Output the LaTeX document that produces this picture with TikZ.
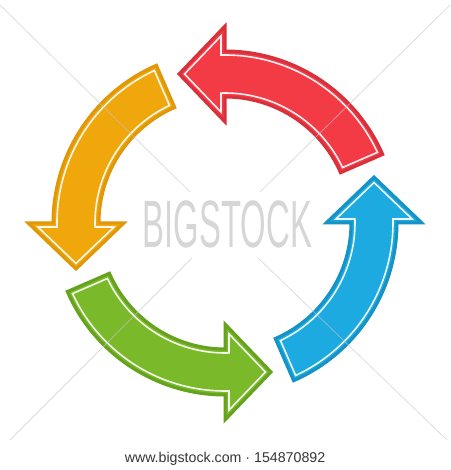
\documentclass[tikz,border=0pt]{standalone}
\usepackage{fontspec}
\setmainfont{Liberation Sans}
\usepackage{graphicx}
\definecolor{redF}{HTML}{F33B46}
\definecolor{redB}{HTML}{D8313B}
\definecolor{yelF}{HTML}{EFA70C}
\definecolor{yelB}{HTML}{E09708}
\definecolor{grnF}{HTML}{7AB929}
\definecolor{grnB}{HTML}{65A31E}
\definecolor{bluF}{HTML}{1CAAE0}
\definecolor{bluB}{HTML}{1592C6}
\definecolor{wmark}{HTML}{D6D6D6}
\definecolor{wline}{HTML}{C8C8C8}
\definecolor{urltext}{HTML}{363636}
% geometry (pt = px)
\def\RO{172}\def\RI{126}\def\RM{149}
\def\HO{197}\def\HI{101}\def\LL{46}
\def\TT{23.5}\def\DD{4}
\pgfmathsetmacro\ROd{\RO-\DD}
\pgfmathsetmacro\RId{\RI+\DD}
\pgfmathsetmacro\aA{asin(\DD/(\RO-\DD))}
\pgfmathsetmacro\aB{asin(\DD/(\RI+\DD))}
\pgfmathsetmacro\hh{\HO-\RM}
\pgfmathsetmacro\ss{sqrt(\LL*\LL+\hh*\hh)}
\pgfmathsetmacro\kk{\LL/\ss+(\ss+\hh)*\hh/(\LL*\ss)}
\pgfmathsetmacro\tipx{-\LL+\DD*\ss/\hh}
\pgfmathsetmacro\tA{\TT+\aA}
\pgfmathsetmacro\eA{90+\aA}
\pgfmathsetmacro\tB{\TT+\aB}
\pgfmathsetmacro\eB{90+\aB}
\pgfmathsetmacro\yA{\HO-\kk*\DD}
\pgfmathsetmacro\yB{\HI+\kk*\DD}
\newcommand{\ringarrow}[3]{%
  \begin{scope}[rotate=#1]
    \filldraw[fill=#2, draw=#3, line width=3pt, line join=miter]
      (\TT:\RO pt) arc[start angle=\TT, end angle=90, radius=\RO pt]
      -- (0,\HO) -- (-\LL,\RM) -- (0,\HI) -- (0,\RI)
      arc[start angle=90, end angle=\TT, radius=\RI pt] -- cycle;
    \draw[white, line width=1.6pt, line join=miter, opacity=0.92]
      (\tA:\ROd pt) arc[start angle=\tA, end angle=\eA, radius=\ROd pt]
      -- (-\DD,\yA) -- (\tipx,\RM) -- (-\DD,\yB) -- (\eB:\RId pt)
      arc[start angle=\eB, end angle=\tB, radius=\RId pt] -- cycle;
  \end{scope}}
\begin{document}
\begin{tikzpicture}[x=1pt,y=1pt,
  wmline/.style={draw=wline, line width=0.8pt, opacity=0.6}]
\useasboundingbox (-225,-247) rectangle (225,223);
\fill[white] (-225,-247) rectangle (225,223);
% arrows: red (top), yellow (left), green (bottom), blue (right)
\ringarrow{0}{redF}{redB}
\ringarrow{90}{yelF}{yelB}
\ringarrow{180}{grnF}{grnB}
\ringarrow{270}{bluF}{bluB}
% watermark
\node[text=wmark, inner sep=0pt] (wm) at (2.5,-1)
  {\scalebox{0.49}[1]{\fontsize{67}{67}\selectfont BIGSTOCK}};
\coordinate (tl) at (-225,218);
\coordinate (tr) at (225,218);
\coordinate (bl) at (-215,-217);
\coordinate (br) at (222,-217);
\coordinate (ctl) at (-35,31);
\coordinate (ctr) at (35,31);
\coordinate (cbl) at (-33,-35);
\coordinate (cbr) at (33,-35);
\draw[wmline] (tl) -- (ctl);
\draw[wmline] (tr) -- (ctr);
\draw[wmline] (bl) -- (cbl);
\draw[wmline] (br) -- (cbr);
\node[text=urltext, inner sep=0pt] (url) at (0,-236)
  {\fontsize{14.2}{14.2}\selectfont www.bigstock.com · 154870892};
\end{tikzpicture}
\end{document}
